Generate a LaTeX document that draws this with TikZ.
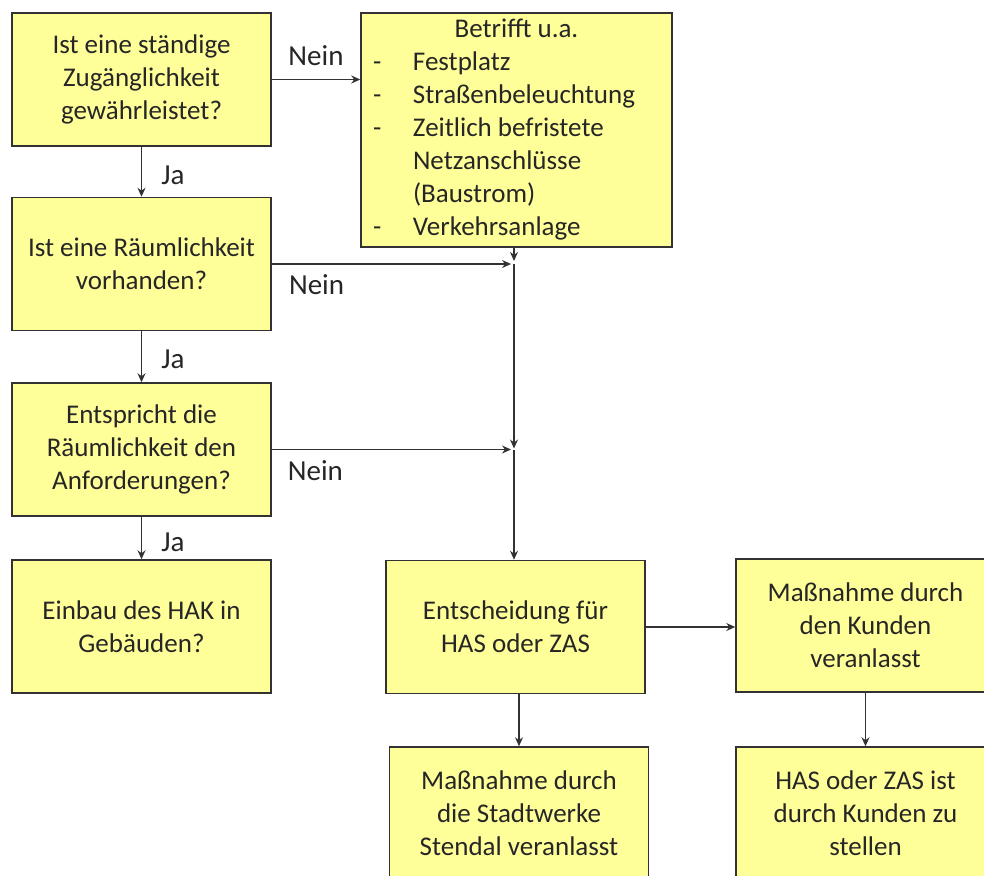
\documentclass[tikz,border=0pt]{standalone}
\usepackage{fontspec}
\setmainfont{Carlito}
\usepackage{tikz}
\usetikzlibrary{arrows.meta,positioning}
\setlength{\parindent}{0pt}
\definecolor{boxgelb}{RGB}{255,255,153}
\definecolor{rand}{RGB}{50,50,50}
\definecolor{schrift}{RGB}{38,38,38}

\begin{document}
\begin{tikzpicture}[x=1pt,y=-1pt,
	box/.style={draw=rand, fill=boxgelb, line width=1.5pt, text=schrift, align=center,
		minimum width=259pt, minimum height=133pt, inner sep=0pt,
		font=\fontsize{27}{33}\selectfont},
	label/.style={text=schrift, font=\fontsize{29}{35}\selectfont},
	>={Stealth[length=9pt,width=8pt]}]
	\path[use as bounding box, clip] (0,0) rectangle (984,875);
	%\draw[help lines] (0,0) grid[step=50pt] (984,875);
	\node[box] (zugang) at (141.5,79.5) {Ist eine ständige\\Zugänglichkeit\\gewährleistet?};
	\node[box] (raum) at (141.5,264) {Ist eine Räumlichkeit\\vorhanden?};
	\node[box] (anford) at (141.5,449.5) {Entspricht die\\Räumlichkeit den\\Anforderungen?};
	\node[box] (einbau) at (141.5,626.5) {Einbau des HAK in\\Gebäuden?};
	\node[box, minimum width=311pt, minimum height=234pt, text width=287pt, align=none] (betrifft) at (516.5,130)
		{\centering Betrifft u.a.\par\raggedright
		\makebox[40pt][l]{-}Festplatz\\
		\makebox[40pt][l]{-}Straßenbeleuchtung\\
		\makebox[40pt][l]{-}Zeitlich befristete\\
		\hspace*{40pt}Netzanschlüsse\\
		\hspace*{40pt}(Baustrom)\\
		\makebox[40pt][l]{-}Verkehrsanlage\par};
	\node[box] (entsch) at (515.5,627) {Entscheidung für\\HAS oder ZAS};
	\node[box] (kunde) at (865.5,625.5) {Maßnahme durch\\den Kunden\\veranlasst};
	\node[box] (stadtw) at (519,813.5) {Maßnahme durch\\die Stadtwerke\\Stendal veranlasst};
	\node[box] (stellen) at (865.5,813.5) {HAS oder ZAS ist\\durch Kunden zu\\stellen};
	\coordinate (j1) at (514,264);
	\coordinate (j2) at (514,449.5);

	\draw[->, line width=1.3pt, rand] (zugang.east) -- node[label, above, yshift=10pt] {Nein} (zugang.east -| betrifft.west);
	\draw[->, line width=1.3pt, rand] (zugang.south) -- node[label, right=16pt, yshift=-4pt] {Ja} (raum.north);
	\draw[->, line width=1.3pt, rand] (raum.south) -- node[label, right=16pt, yshift=-3pt] {Ja} (anford.north);
	\draw[->, line width=1.3pt, rand] (anford.south) -- node[label, right=16pt, yshift=-4pt] {Ja} (einbau.north);
	\draw[->, line width=1.3pt, rand, shorten >=3pt] (raum.east) -- node[label, below, pos=0.185, yshift=-7pt] {Nein} (j1);
	\draw[->, line width=1.3pt, rand, shorten >=3pt] (anford.east) -- node[label, below, pos=0.18, yshift=-7pt] {Nein} (j2);
	\draw[->, line width=1.3pt, rand, shorten >=3pt] (j1 |- betrifft.south) -- (j1);
	\draw[->, line width=1.3pt, rand, shorten >=1pt] (j1) -- (j2);
	\draw[->, line width=1.3pt, rand] (j2) -- (j2 |- entsch.north);
	\draw[->, line width=1.3pt, rand] (entsch.east) -- (entsch.east -| kunde.west);
	\draw[->, line width=1.3pt, rand] (stadtw.north |- entsch.south) -- (stadtw.north);
	\draw[->, line width=1.3pt, rand] (kunde.south) -- (stellen.north);
\end{tikzpicture}
\end{document}
